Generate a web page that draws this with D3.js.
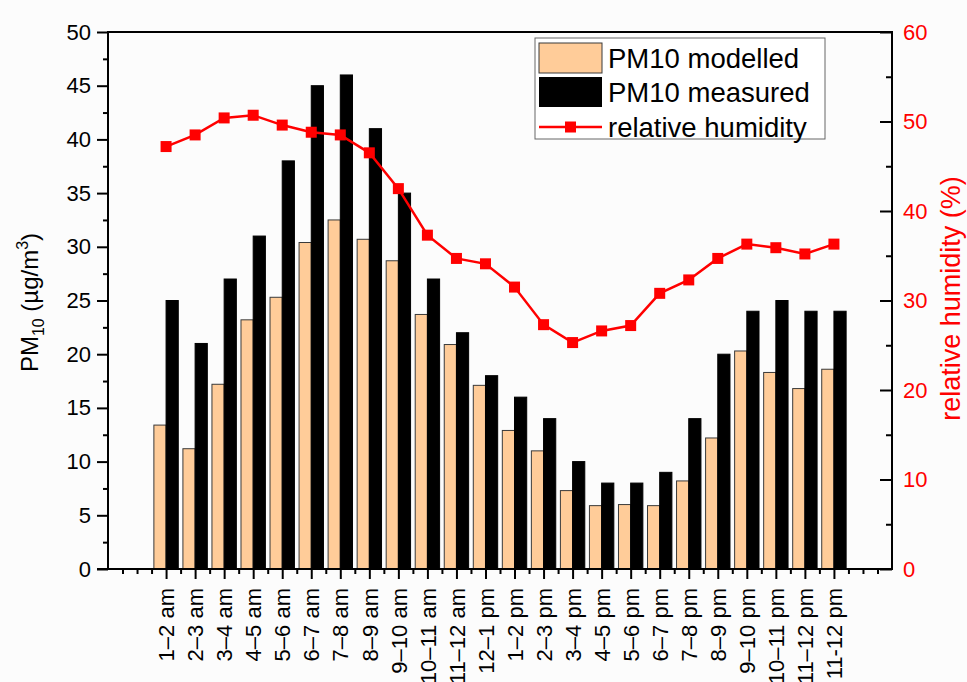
<!DOCTYPE html>
<html>
<head>
<meta charset="utf-8">
<script src="https://cdn.jsdelivr.net/npm/d3@7"></script>
<style>
  html, body { margin: 0; padding: 0; background: #fcfcfc; }
  svg { display: block; font-family: "Liberation Sans", Arial, sans-serif; }
</style>
</head>
<body>
<svg id="chart" width="967" height="682"></svg>
<script>
// Hourly periods
const categories = [
  "1–2 am", "2–3 am", "3–4 am", "4–5 am", "5–6 am", "6–7 am", "7–8 am", "8–9 am",
  "9–10 am", "10–11 am", "11–12 am", "12–1 pm", "1–2 pm", "2–3 pm", "3–4 pm", "4–5 pm",
  "5–6 pm", "6–7 pm", "7–8 pm", "8–9 pm", "9–10 pm", "10–11 pm", "11–12 pm", "11-12 pm"
];
// PM10 concentrations (µg/m³)
const pm10Modelled = [13.4, 11.2, 17.2, 23.2, 25.3, 30.4, 32.5, 30.7, 28.7, 23.7, 20.9, 17.1,
                      12.9, 11.0, 7.3, 5.9, 6.0, 5.9, 8.2, 12.2, 20.3, 18.3, 16.8, 18.6];
const pm10Measured = [25, 21, 27, 31, 38, 45, 46, 41, 35, 27, 22, 18,
                      16, 14, 10, 8, 8, 9, 14, 20, 24, 25, 24, 24];
// Relative humidity (%)
const humidity = [47.2, 48.5, 50.4, 50.7, 49.6, 48.8, 48.5, 46.5, 42.5, 37.3, 34.7, 34.1,
                  31.5, 27.3, 25.3, 26.6, 27.2, 30.8, 32.3, 34.7, 36.3, 35.9, 35.2, 36.3];
// Axis ticks
const leftTicks = [0, 5, 10, 15, 20, 25, 30, 35, 40, 45, 50];
const rightTicks = [0, 10, 20, 30, 40, 50, 60];

const svg = d3.select("#chart");
const L = 108, R = 892, T = 32, B = 569;

const x = d3.scaleLinear().domain([0, categories.length + 3]).range([L, R]);
const y = d3.scaleLinear().domain([0, 50]).range([B, T]);
const y2 = d3.scaleLinear().domain([0, 60]).range([B, T]);
const pos = i => x(i + 2);
const bw = x(0.42) - x(0);

const modelFill = "#ffcc99";
const red = "#ff0000";

// Bars
const g = svg.append("g");
g.selectAll("rect.mod").data(pm10Modelled).join("rect")
  .attr("class", "mod")
  .attr("x", (d, i) => pos(i) - bw).attr("y", d => y(d))
  .attr("width", bw).attr("height", d => B - y(d))
  .attr("fill", modelFill).attr("stroke", "#3a3a3a").attr("stroke-width", 1);
g.selectAll("rect.meas").data(pm10Measured).join("rect")
  .attr("class", "meas")
  .attr("x", (d, i) => pos(i)).attr("y", d => y(d))
  .attr("width", bw).attr("height", d => B - y(d))
  .attr("fill", "#000").attr("stroke", "#000").attr("stroke-width", 1);

// Humidity line and markers
const line = d3.line().x((d, i) => pos(i)).y(d => y2(d));
svg.append("path").datum(humidity)
  .attr("d", line).attr("fill", "none").attr("stroke", red).attr("stroke-width", 2.5);
svg.selectAll("rect.hm").data(humidity).join("rect")
  .attr("class", "hm")
  .attr("x", (d, i) => pos(i) - 5.5).attr("y", d => y2(d) - 5.5)
  .attr("width", 11).attr("height", 11).attr("fill", red);

// Axes
const tickFont = 22;
function styleAxis(sel, color) {
  sel.select(".domain").remove();
  sel.selectAll(".tick line").attr("stroke", "#000").attr("stroke-width", 2);
  sel.selectAll(".tick text").attr("font-size", tickFont).attr("fill", color)
     .attr("font-family", "Liberation Sans, Arial, sans-serif");
}

// Left axis
const leftMinor = d3.range(2.5, 50, 5);
svg.append("g").attr("transform", `translate(${L},0)`)
  .call(d3.axisLeft(y).tickValues(leftMinor).tickSize(5).tickFormat(""))
  .call(s => styleAxis(s, "#000"));
svg.append("g").attr("transform", `translate(${L},0)`)
  .call(d3.axisLeft(y).tickValues(leftTicks).tickSize(11).tickPadding(6))
  .call(s => styleAxis(s, "#000"));

// Right axis (ticks pointing inward, labels outside)
const rightMinor = d3.range(5, 60, 10);
svg.append("g").attr("transform", `translate(${R},0)`)
  .call(d3.axisLeft(y2).tickValues(rightMinor).tickSize(6).tickFormat(""))
  .call(s => styleAxis(s, red));
const ra = svg.append("g").attr("transform", `translate(${R},0)`)
  .call(d3.axisRight(y2).tickValues(rightTicks).tickSize(0).tickPadding(11))
  .call(s => styleAxis(s, red));
ra.selectAll(".tick line").attr("x1", 0).attr("x2", -12);

// Bottom axis
const majorX = categories.map((c, i) => i + 2);
const minorX = d3.range(0.5, categories.length + 3, 0.5).filter(v => !majorX.includes(v));
svg.append("g").attr("transform", `translate(0,${B})`)
  .call(d3.axisBottom(x).tickValues(minorX).tickSize(5).tickFormat(""))
  .call(s => styleAxis(s, "#000"));
const bx = svg.append("g").attr("transform", `translate(0,${B})`)
  .call(d3.axisBottom(x).tickValues(majorX).tickSize(10).tickFormat(v => categories[v - 2]))
  .call(s => styleAxis(s, "#000"));
bx.selectAll(".tick text")
  .attr("transform", "rotate(-90)")
  .attr("text-anchor", "end")
  .attr("x", -19).attr("y", 0).attr("dy", "0.35em");

// Frame
svg.append("path")
  .attr("d", `M${L},${B + 1}V${T}H${R}V${B}H${L - 11}`)
  .attr("fill", "none").attr("stroke", "#000").attr("stroke-width", 2);

// Axis titles
const lt = svg.append("text")
  .attr("transform", `translate(38,${(T + B) / 2 + 2}) rotate(-90)`)
  .attr("text-anchor", "middle").attr("font-size", 24).attr("fill", "#000");
lt.append("tspan").text("PM");
lt.append("tspan").text("10").attr("font-size", 16).attr("dy", 6);
lt.append("tspan").text(" (µg/m").attr("dy", -6);
lt.append("tspan").text("3").attr("font-size", 16).attr("dy", -10);
lt.append("tspan").text(")").attr("dy", 10);

svg.append("text")
  .attr("transform", `translate(960,${(T + B) / 2 - 2}) rotate(-90)`)
  .attr("text-anchor", "middle").attr("font-size", 27).attr("fill", red)
  .text("relative humidity (%)");

// Legend
const lg = svg.append("g");
lg.append("rect").attr("x", 535).attr("y", 38).attr("width", 290).attr("height", 101)
  .attr("fill", "#fff").attr("stroke", "#666").attr("stroke-width", 1);
const legendItems = ["PM10 modelled", "PM10 measured", "relative humidity"];
lg.append("rect").attr("x", 539).attr("y", 43).attr("width", 63).attr("height", 30)
  .attr("fill", modelFill).attr("stroke", "#3a3a3a");
lg.append("rect").attr("x", 539).attr("y", 77).attr("width", 63).attr("height", 30)
  .attr("fill", "#000");
lg.append("line").attr("x1", 539).attr("x2", 602).attr("y1", 127).attr("y2", 127)
  .attr("stroke", red).attr("stroke-width", 2.5);
lg.append("rect").attr("x", 565).attr("y", 121.5).attr("width", 11).attr("height", 11)
  .attr("fill", red);
lg.selectAll("text.li").data(legendItems).join("text")
  .attr("class", "li")
  .attr("x", 608).attr("y", (d, i) => 58 + i * 34.5).attr("dy", "0.35em")
  .attr("font-size", 27.5).attr("fill", "#000").text(d => d);
</script>
</body>
</html>
